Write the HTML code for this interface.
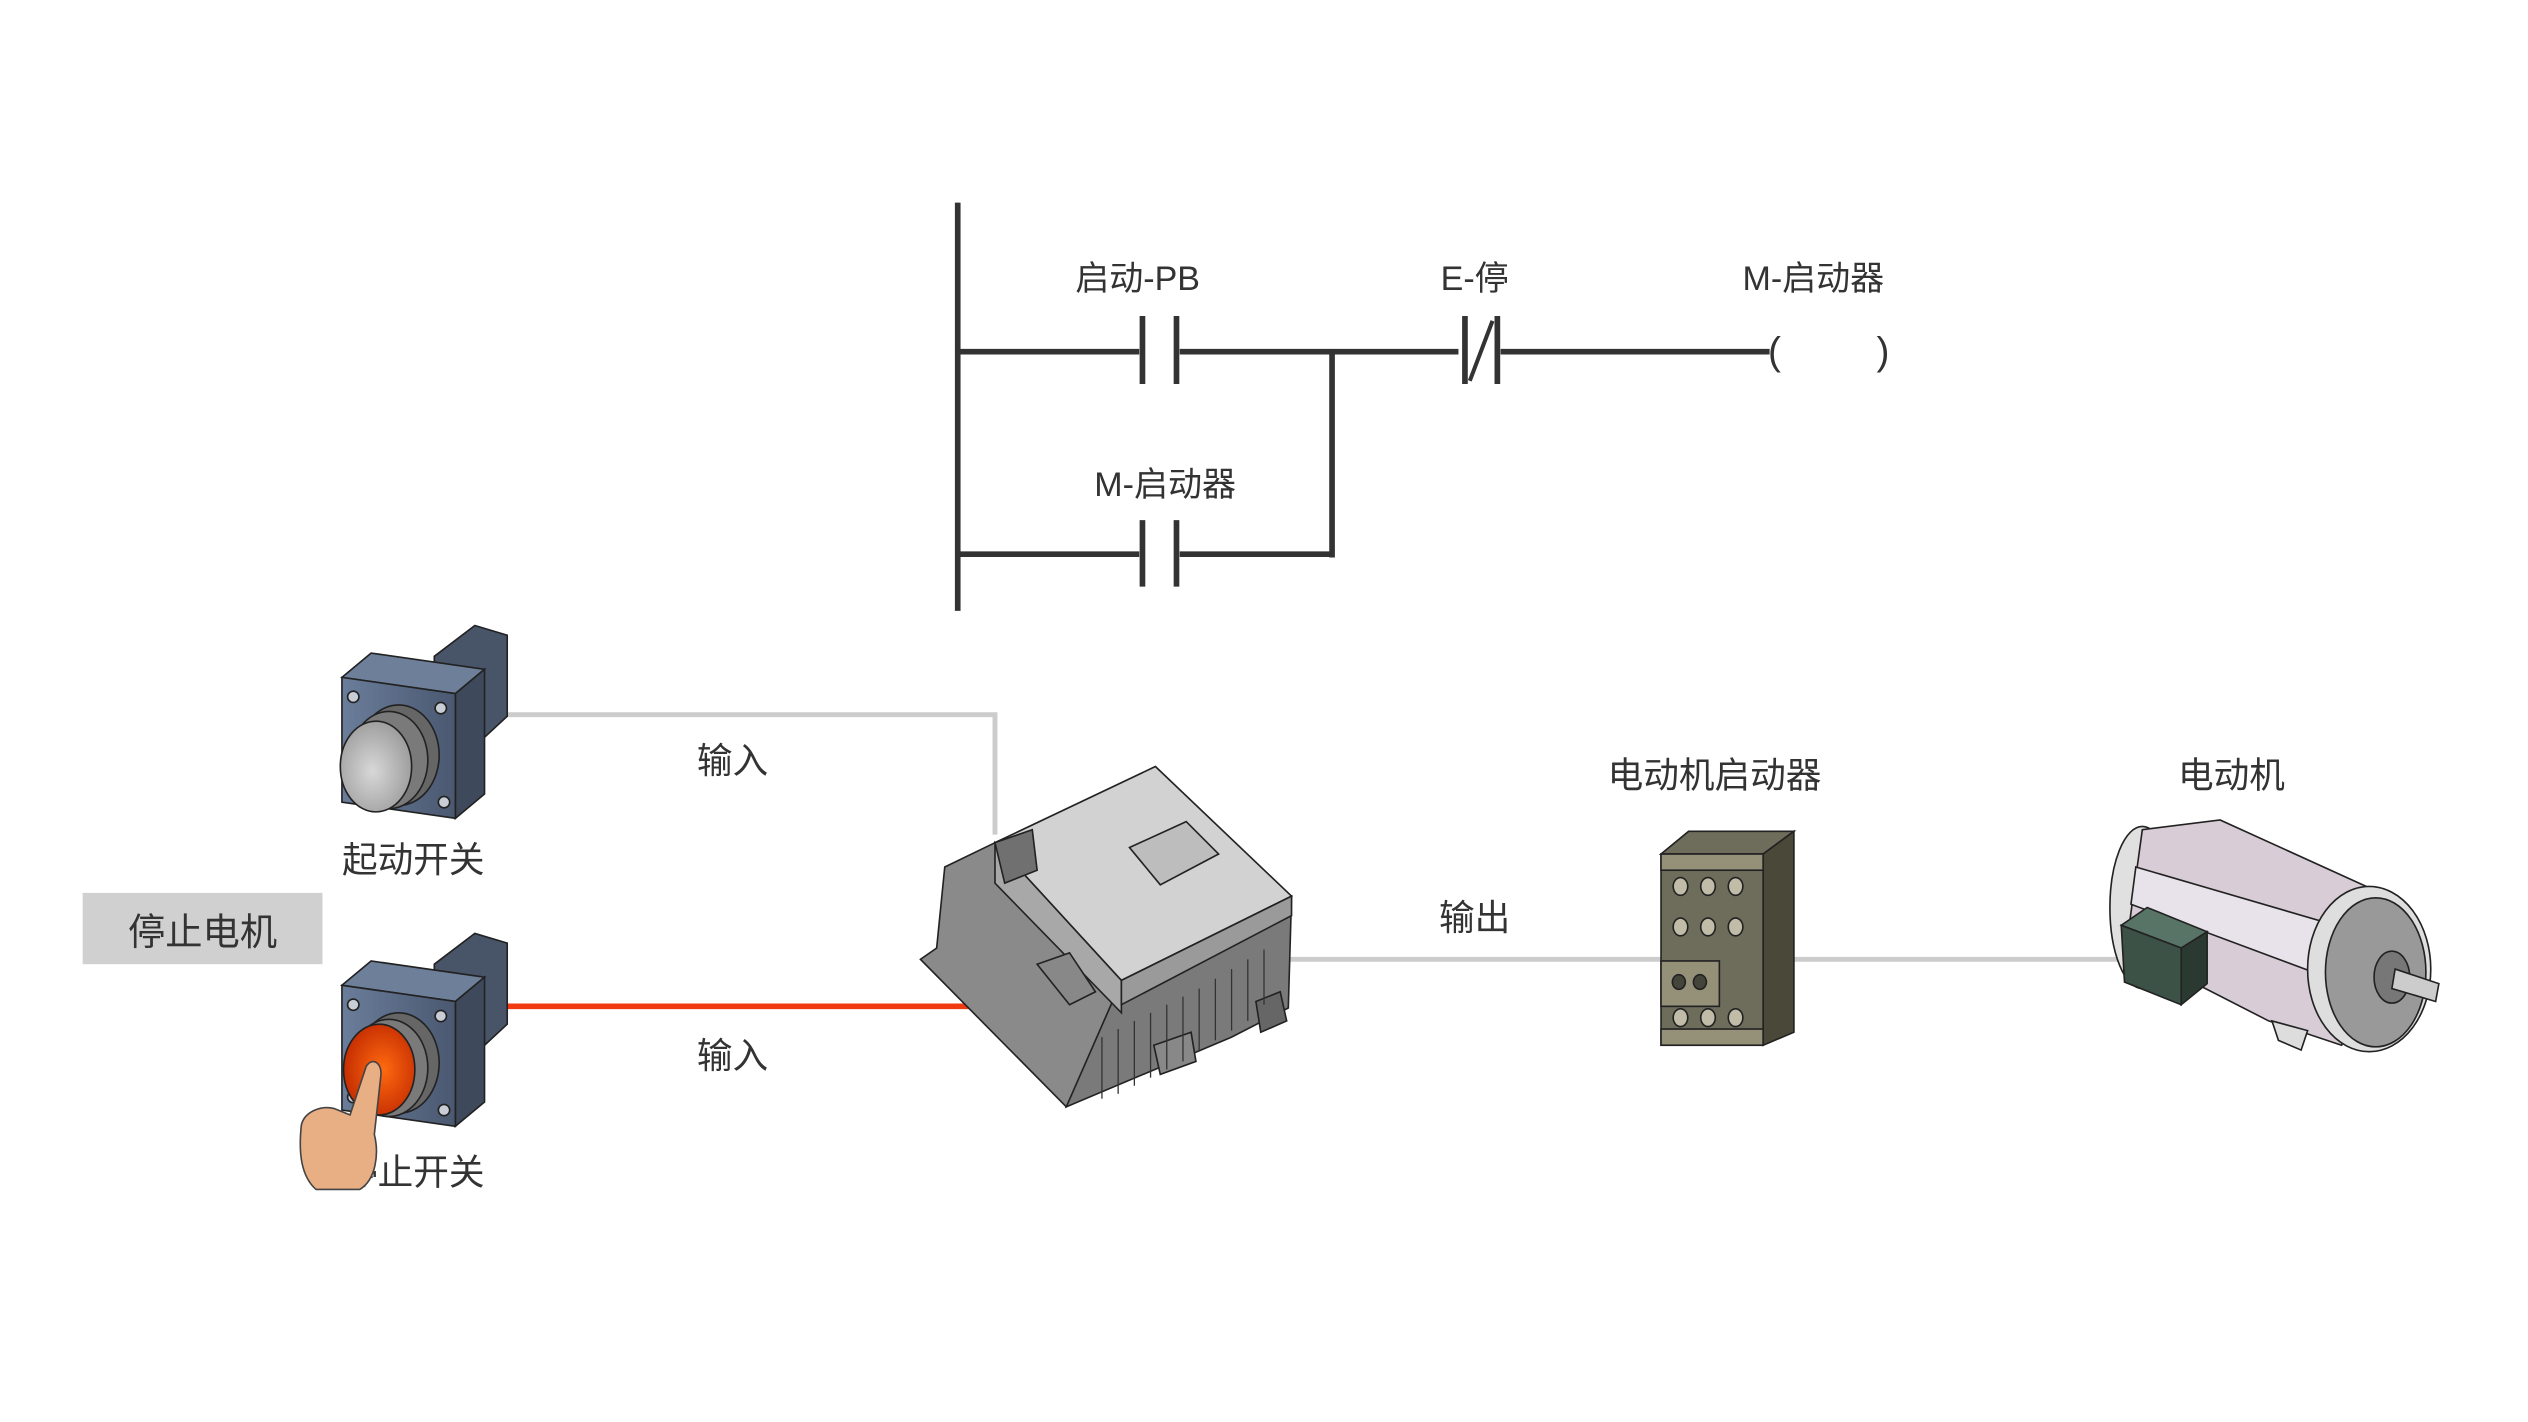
<!DOCTYPE html>
<html><head><meta charset="utf-8"><style>
html,body{margin:0;padding:0;background:#fff;}
svg{display:block;}
text{font-family:"Liberation Sans","Noto Sans CJK SC",sans-serif;fill:#333;}
</style></head><body>
<svg width="2528" height="1422" viewBox="0 0 1560 877.5" preserveAspectRatio="none" xmlns="http://www.w3.org/2000/svg">
<defs>
<linearGradient id="bf" x1="0" x2="1"><stop offset="0" stop-color="#6a7d9a"/><stop offset="1" stop-color="#4a5870"/></linearGradient>
<radialGradient id="lens" cx="0.45" cy="0.55" r="0.6"><stop offset="0" stop-color="#d8d8d8"/><stop offset="1" stop-color="#9a9a9a"/></radialGradient>
<radialGradient id="red" cx="0.55" cy="0.5" r="0.6"><stop offset="0" stop-color="#ff6a10"/><stop offset="1" stop-color="#c02800"/></radialGradient>
</defs>
<!-- ladder -->
<g stroke="#333" stroke-width="3.5" fill="none">
<line x1="591" y1="125" x2="591" y2="377"/>
<line x1="591" y1="217" x2="703" y2="217"/>
<line x1="728" y1="217" x2="900" y2="217"/>
<line x1="926" y1="217" x2="1092" y2="217"/>
<line x1="591" y1="342" x2="703" y2="342"/>
<line x1="728" y1="342" x2="822" y2="342"/>
<line x1="822" y1="217" x2="822" y2="344"/>
<line x1="705" y1="195" x2="705" y2="237"/><line x1="726" y1="195" x2="726" y2="237"/>
<line x1="705" y1="321" x2="705" y2="362"/><line x1="726" y1="321" x2="726" y2="362"/>
<line x1="904" y1="195" x2="904" y2="237"/><line x1="924" y1="195" x2="924" y2="237"/>
<line x1="907" y1="235" x2="921" y2="198" stroke-width="2.5"/>
</g>
<text x="1095" y="225" font-size="24" text-anchor="middle">(</text>
<text x="1162" y="225" font-size="24" text-anchor="middle">)</text>
<text x="702" y="179" font-size="21" text-anchor="middle">启动-PB</text>
<text x="910" y="179" font-size="21" text-anchor="middle">E-停</text>
<text x="1119" y="179" font-size="21" text-anchor="middle">M-启动器</text>
<text x="719" y="306" font-size="21" text-anchor="middle">M-启动器</text>
<!-- wires -->
<polyline points="313,441 614,441 614,515" stroke="#cccccc" stroke-width="3" fill="none"/>
<line x1="313" y1="621" x2="600" y2="621" stroke="#f03a10" stroke-width="3.5"/>
<line x1="790" y1="592" x2="1312" y2="592" stroke="#cccccc" stroke-width="3"/>
<text x="452" y="477" font-size="22" text-anchor="middle">输入</text>
<text x="452" y="659" font-size="22" text-anchor="middle">输入</text>
<text x="910" y="574" font-size="22" text-anchor="middle">输出</text>
<text x="1058" y="486" font-size="22" text-anchor="middle">电动机启动器</text>
<text x="1377" y="486" font-size="22" text-anchor="middle">电动机</text>
<text x="255" y="538" font-size="22" text-anchor="middle">起动开关</text>
<text x="255" y="731" font-size="22" text-anchor="middle">停止开关</text>
<rect x="51" y="551" width="148" height="44" fill="#d0d0d0"/>
<text x="125" y="583" font-size="23" text-anchor="middle">停止电机</text>
<!-- buttons -->
<g id="btn" stroke="#222" stroke-width="1">
<polygon points="268,405 293,386 313,392 313,442 299,455 268,440" fill="#485468"/>
<polygon points="211,418 229,403 299,413 281,428" fill="#6d7f99"/>
<polygon points="281,428 299,413 299,490 281,505" fill="#3e4a5c"/>
<polygon points="211,418 281,428 281,505 211,495" fill="url(#bf)"/>
<circle cx="218" cy="430" r="3.5" fill="#c8cdd6"/><circle cx="272" cy="437" r="3.5" fill="#c8cdd6"/>
<circle cx="218" cy="487" r="3.5" fill="#c8cdd6"/><circle cx="274" cy="495" r="3.5" fill="#c8cdd6"/>
<ellipse cx="246" cy="466" rx="25" ry="31" fill="#666"/>
<ellipse cx="240" cy="469" rx="24" ry="30" fill="#7a7a7a"/>
</g>
<ellipse cx="232" cy="473" rx="22" ry="28" fill="url(#lens)" stroke="#222"/>
<g transform="translate(0,190)">
<g stroke="#222" stroke-width="1">
<polygon points="268,405 293,386 313,392 313,442 299,455 268,440" fill="#485468"/>
<polygon points="211,418 229,403 299,413 281,428" fill="#6d7f99"/>
<polygon points="281,428 299,413 299,490 281,505" fill="#3e4a5c"/>
<polygon points="211,418 281,428 281,505 211,495" fill="url(#bf)"/>
<circle cx="218" cy="430" r="3.5" fill="#c8cdd6"/><circle cx="272" cy="437" r="3.5" fill="#c8cdd6"/>
<circle cx="218" cy="487" r="3.5" fill="#c8cdd6"/><circle cx="274" cy="495" r="3.5" fill="#c8cdd6"/>
<ellipse cx="246" cy="466" rx="25" ry="31" fill="#666"/>
<ellipse cx="240" cy="469" rx="24" ry="30" fill="#7a7a7a"/>
</g>
<ellipse cx="234" cy="470" rx="22" ry="28" fill="url(#red)" stroke="#222"/>
</g>
<!-- hand -->
<path d="M226,658 C230,652 236,656 235,664 L231,700 C234,712 232,728 222,734 L195,734 C186,726 184,712 186,694 C188,686 198,682 206,684 L216,688 Z" fill="#e8ae84" stroke="#444" stroke-width="1"/>
<!-- PLC -->
<g stroke="#222" stroke-width="1">
<polygon points="583,535 614,520 700,605 690,645 658,683 568,592 578,585" fill="#8a8a8a"/>
<polygon points="690,610 797,553 795,622 760,640 658,683" fill="#7a7a7a"/>
<polygon points="614,520 713,473 797,553 692,605" fill="#d2d2d2"/>
<polygon points="614,520 692,605 692,625 614,545" fill="#a8a8a8"/>
<polygon points="692,605 797,553 797,565 692,620" fill="#9a9a9a"/>
<polygon points="697,523 732,507 752,527 716,546" fill="#bdbdbd"/>
<polygon points="614,520 637,512 640,537 620,545" fill="#707070"/>
<polygon points="640,595 660,588 676,612 660,620" fill="#888"/>
<polygon points="775,618 790,612 794,630 778,637" fill="#666"/>
<polygon points="712,645 735,637 738,655 716,663" fill="#888"/>
</g>
<g stroke="#333" stroke-width="0.8">
<line x1="700" y1="630" x2="700" y2="670"/><line x1="710" y1="625" x2="710" y2="665"/><line x1="720" y1="620" x2="720" y2="660"/>
<line x1="730" y1="615" x2="730" y2="655"/><line x1="740" y1="610" x2="740" y2="648"/><line x1="750" y1="604" x2="750" y2="642"/>
<line x1="760" y1="598" x2="760" y2="636"/><line x1="770" y1="592" x2="770" y2="630"/><line x1="780" y1="586" x2="780" y2="620"/>
<line x1="690" y1="635" x2="690" y2="675"/><line x1="680" y1="640" x2="680" y2="678"/>
</g>
<!-- starter -->
<g stroke="#222" stroke-width="1">
<polygon points="1025,527 1042,513 1107,513 1088,527" fill="#6e6c5a"/>
<polygon points="1088,527 1107,513 1107,637 1088,645" fill="#4a4838"/>
<rect x="1025" y="527" width="63" height="118" fill="#6e6c5a"/>
<rect x="1025" y="527" width="63" height="10" fill="#959078"/>
<rect x="1025" y="635" width="63" height="10" fill="#959078"/>
<rect x="1025" y="593" width="36" height="28" fill="#959078"/>
<g fill="#c0bca8">
<ellipse cx="1037" cy="547" rx="4.5" ry="5.5"/><ellipse cx="1054" cy="547" rx="4.5" ry="5.5"/><ellipse cx="1071" cy="547" rx="4.5" ry="5.5"/>
<ellipse cx="1037" cy="572" rx="4.5" ry="5.5"/><ellipse cx="1054" cy="572" rx="4.5" ry="5.5"/><ellipse cx="1071" cy="572" rx="4.5" ry="5.5"/>
<ellipse cx="1037" cy="628" rx="4.5" ry="5.5"/><ellipse cx="1054" cy="628" rx="4.5" ry="5.5"/><ellipse cx="1071" cy="628" rx="4.5" ry="5.5"/>
</g>
<ellipse cx="1036" cy="606" rx="4" ry="4.5" fill="#44443a"/><ellipse cx="1049" cy="606" rx="4" ry="4.5" fill="#44443a"/>
</g>
<!-- motor -->
<g stroke="#222" stroke-width="1">
<ellipse cx="1322" cy="560" rx="20" ry="50" fill="#e0e0e0"/>
<polygon points="1322,512 1370,506 1480,556 1445,645 1400,630 1312,585" fill="#d8ccd6"/>
<polygon points="1318,535 1472,580 1460,612 1315,558" fill="#e8e2ea"/>
<polygon points="1402,630 1424,636 1420,648 1406,642" fill="#ddd"/>
<ellipse cx="1462" cy="598" rx="38" ry="51" fill="#dedede"/>
<ellipse cx="1466" cy="600" rx="31" ry="46" fill="#999"/>
<ellipse cx="1476" cy="603" rx="11" ry="16" fill="#777"/>
<polygon points="1478,598 1505,607 1503,618 1476,610" fill="#ccc"/>
<polygon points="1309,571 1325,560 1362,575 1346,585" fill="#587466"/>
<polygon points="1346,585 1362,575 1362,607 1346,620" fill="#2a3a30"/>
<polygon points="1309,571 1346,585 1346,620 1311,606" fill="#3d5246"/>
</g>
</svg>
</body></html>
